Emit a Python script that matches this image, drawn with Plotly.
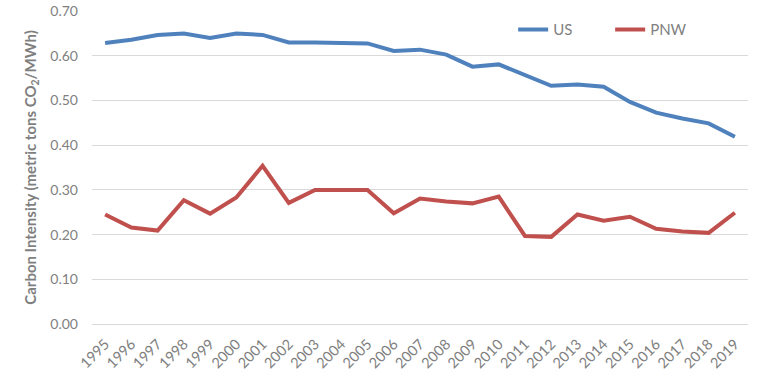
import plotly.graph_objects as go

years = [str(y) for y in range(1995, 2020)]
us = [0.629, 0.636, 0.647, 0.650, 0.640, 0.650, 0.647, 0.630, 0.630, 0.628, 0.628,
      0.611, 0.614, 0.603, 0.576, 0.581, 0.557, 0.533, 0.536, 0.531, 0.497, 0.473,
      0.460, 0.449, 0.419]
pnw = [0.245, 0.216, 0.209, 0.277, 0.247, 0.283, 0.354, 0.271, 0.300, 0.300, 0.300,
       0.248, 0.281, 0.274, 0.270, 0.285, 0.197, 0.195, 0.245, 0.231, 0.240, 0.213,
       0.207, 0.204, 0.249]
y_ticks = [0, 0.1, 0.2, 0.3, 0.4, 0.5, 0.6, 0.7]
y_labels = ["0.00", "0.10", "0.20", "0.30", "0.40", "0.50", "0.60", "0.70"]

fig = go.Figure()
fig.add_trace(go.Scatter(x=years, y=us, name="US", mode="lines",
                         line=dict(color="#4F81BD", width=4)))
fig.add_trace(go.Scatter(x=years, y=pnw, name="PNW", mode="lines",
                         line=dict(color="#C0504D", width=4)))

font = "Lato, 'Open Sans', sans-serif"
fig.update_layout(
    width=761, height=386,
    margin=dict(l=92, r=13, t=11, b=62, autoexpand=False),
    paper_bgcolor="white", plot_bgcolor="white",
    font=dict(family=font, color="#7F7F7F", size=13),
    showlegend=True,
    legend=dict(orientation="h", x=0.642, y=0.94, xanchor="left", yanchor="middle",
                entrywidth=52, entrywidthmode="pixels",
                font=dict(size=15, color="#7F7F7F"), bgcolor="rgba(0,0,0,0)"),
    xaxis=dict(type="category", range=[-0.5, len(years) - 0.5], tickangle=-45,
               showgrid=False, showline=False,
               ticks="", automargin=False, ticklabelstandoff=8,
               tickfont=dict(size=14.5, color="#7F7F7F")),
    yaxis=dict(range=[0, 0.7005], tickvals=y_ticks, ticktext=y_labels,
               showgrid=True, gridcolor="#D9D9D9", gridwidth=1,
               zeroline=True, zerolinecolor="#D9D9D9", zerolinewidth=1,
               showline=False, ticks="", ticklabelstandoff=13, automargin=False,
               ticklabeloverflow="allow",
               tickfont=dict(size=14, color="#7F7F7F"),
               title=dict(text="<b>Carbon Intensity (metric tons CO<sub>2</sub>/MWh)</b>",
                          font=dict(size=15, color="#7F7F7F"), standoff=10)),
)
fig.write_html("out.html", config={"displayModeBar": False},
               post_script="document.body.style.margin='0';document.body.style.overflow='hidden';")
